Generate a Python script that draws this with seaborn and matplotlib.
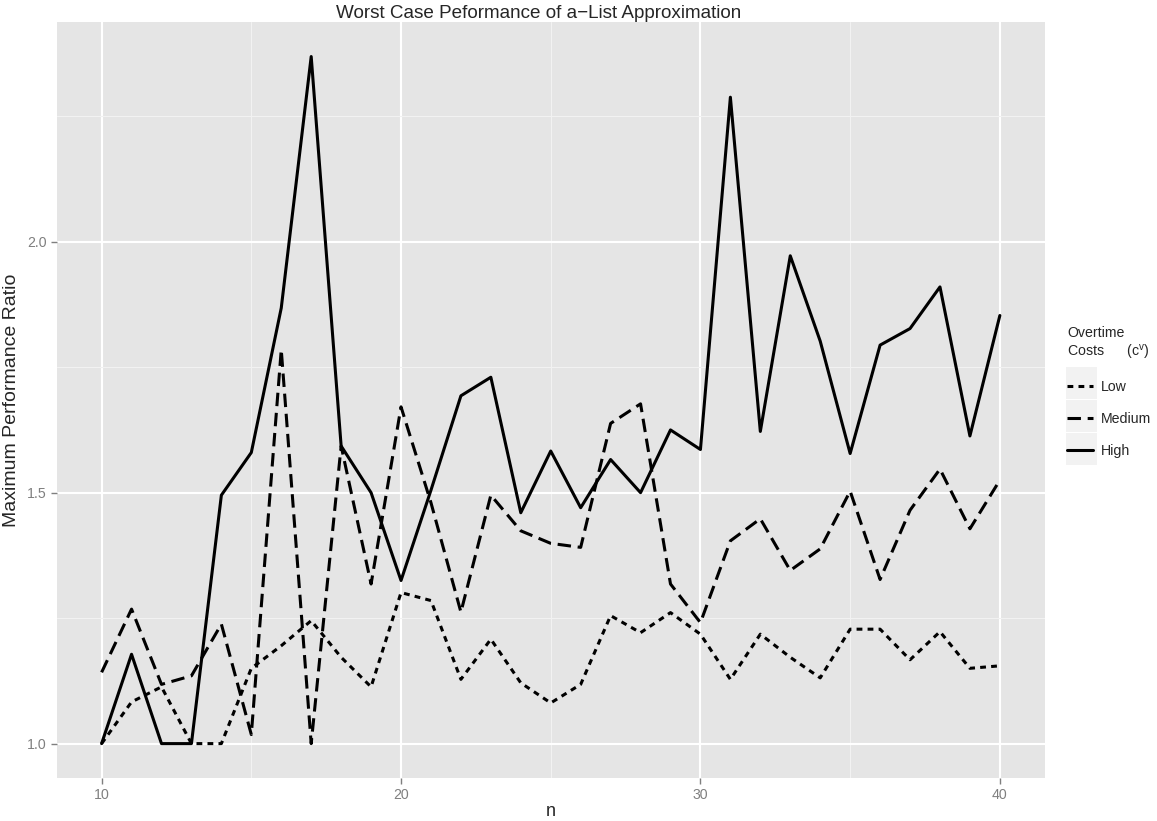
import numpy as np
import pandas as pd
import matplotlib
matplotlib.use('Agg')
import matplotlib.pyplot as plt
from matplotlib.patches import Rectangle
import seaborn as sns

# values
n_values = list(range(10, 41))
low = [1.0, 1.083, 1.113, 1.0, 1.0, 1.15, 1.195, 1.245, 1.172, 1.113,
       1.301, 1.285, 1.128, 1.208, 1.121, 1.081, 1.118, 1.255, 1.221, 1.261,
       1.218, 1.128, 1.218, 1.172, 1.131, 1.228, 1.228, 1.167, 1.223, 1.150,
       1.155]
medium = [1.142, 1.268, 1.118, 1.135, 1.238, 1.018, 1.785, 1.0, 1.593, 1.318,
          1.671, 1.48, 1.262, 1.495, 1.424, 1.399, 1.391, 1.638, 1.677, 1.318,
          1.241, 1.404, 1.448, 1.345, 1.388, 1.503, 1.327, 1.465, 1.547, 1.428,
          1.525]
high = [1.0, 1.178, 1.0, 1.0, 1.495, 1.58, 1.868, 2.369, 1.593, 1.50,
        1.325, 1.505, 1.693, 1.730, 1.460, 1.583, 1.470, 1.566, 1.50, 1.625,
        1.586, 2.288, 1.622, 1.972, 1.802, 1.578, 1.794, 1.827, 1.910, 1.613,
        1.853]
levels = ['Low', 'Medium', 'High']

df = pd.DataFrame({
    'n': n_values * 3,
    'ratio': low + medium + high,
    'cost': [lv for lv in levels for _ in n_values],
})

sns.set_style('darkgrid', {'axes.facecolor': '#E5E5E5'})
plt.rcParams['font.family'] = ['Liberation Sans', 'DejaVu Sans']

fig = plt.figure(figsize=(11.57, 8.21), dpi=100)
ax = fig.add_axes([0.049, 0.0524, 0.854, 0.9206])

sns.lineplot(data=df, x='n', y='ratio', style='cost', style_order=levels,
             dashes={'Low': (1.9, 1.7), 'Medium': (4.4, 2.2), 'High': ''},
             color='black', linewidth=2.2, ax=ax)

ax.set_xlim(8.5, 41.5)
ax.set_ylim(0.9315, 2.4375)
ax.set_xticks([10, 20, 30, 40])
ax.set_xticks([15, 25, 35], minor=True)
ax.set_yticks([1.0, 1.5, 2.0])
ax.set_yticks([1.25, 1.75, 2.25], minor=True)
ax.set_yticklabels(['1.0', '1.5', '2.0'])
ax.grid(which='major', color='white', linewidth=1.5)
ax.grid(which='minor', color='#F2F2F2', linewidth=0.8)
ax.set_axisbelow(True)
for s in ax.spines.values():
    s.set_visible(False)
ax.tick_params(which='major', bottom=True, left=True, length=4, width=1,
               color='#7F7F7F', labelcolor='#7F7F7F', labelsize=10.2, pad=3)
ax.tick_params(which='minor', length=0)

ax.set_title('Worst Case Peformance of a\u2212List Approximation', fontsize=13.6,
             pad=3, x=0.488)
ax.set_xlabel('n', fontsize=13, labelpad=1)
ax.set_ylabel('Maximum Performance Ratio', fontsize=14, labelpad=5)

handles, labels = ax.get_legend_handles_labels()
ax.get_legend().remove()

# grey key backgrounds
for i in range(3):
    top = 367 + i * 33
    fig.patches.append(Rectangle((1066 / 1157, 1 - (top + 32) / 821), 31 / 1157, 32 / 821,
                                 transform=fig.transFigure, facecolor='#F2F2F2',
                                 edgecolor='none', zorder=0))

leg = fig.legend(handles, labels, loc='upper left', bbox_to_anchor=(1067 / 1157, 1 - 326 / 821),
                 frameon=False, fontsize=10.2, title='Overtime\nCosts      ($\\mathregular{c^v}$)',
                 title_fontsize=10.2, handlelength=1.84, labelspacing=1.27,
                 handletextpad=0.57, borderpad=0, borderaxespad=0)
leg._legend_box.align = 'left'
for h in leg.legend_handles:
    h.set_linewidth(2.2)

fig.savefig('out.png', dpi=100)
